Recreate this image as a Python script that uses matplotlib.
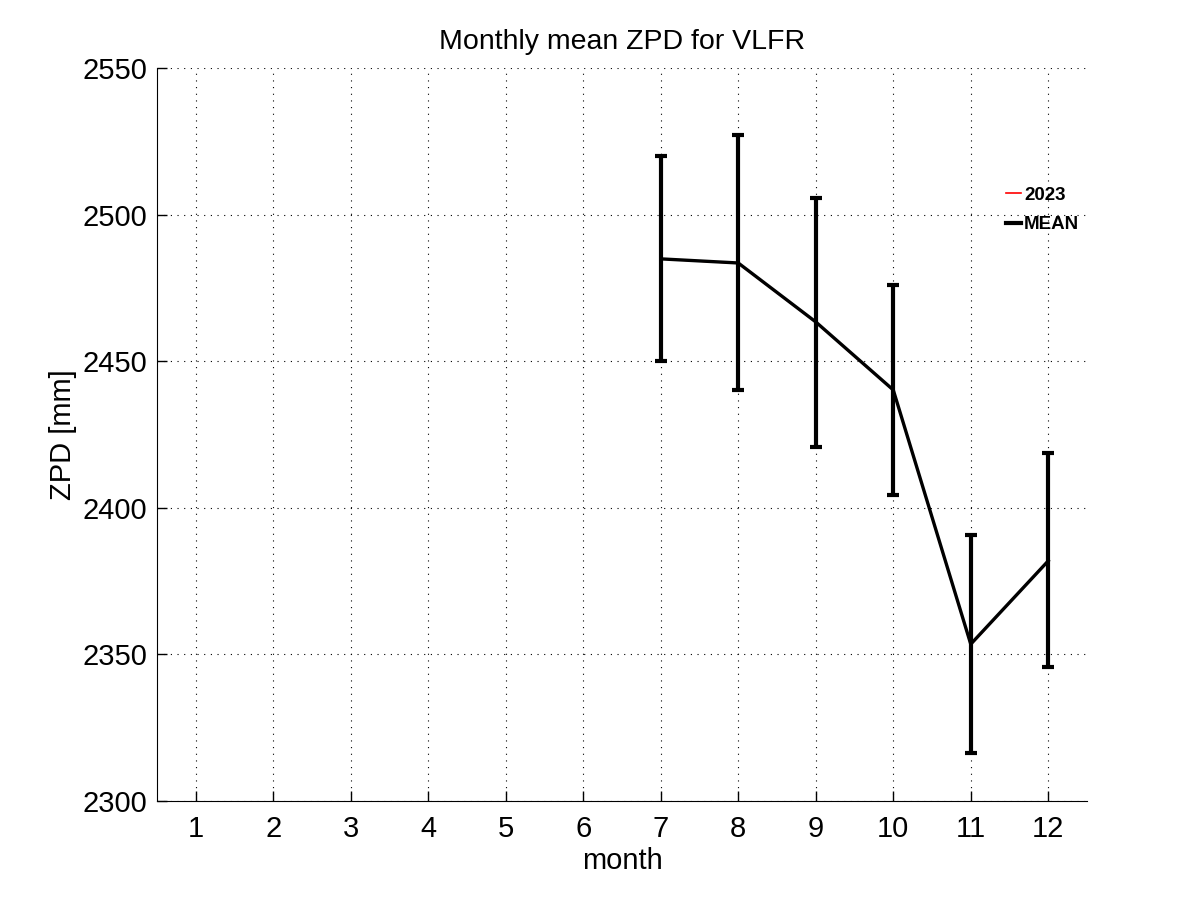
import matplotlib
matplotlib.use("Agg")
import matplotlib.pyplot as plt
import numpy as np
from matplotlib.lines import Line2D

plt.rcParams['font.family'] = ['Liberation Sans', 'DejaVu Sans']

months = [7, 8, 9, 10, 11, 12]
mean_2023 = [2484.9, 2483.4, 2463.3, 2440.1, 2353.3, 2382.0]
mean_all = [2484.9, 2483.5, 2463.4, 2440.2, 2353.5, 2381.9]
upper = [2520.0, 2527.1, 2505.7, 2476.0, 2390.7, 2418.7]
lower = [2450.1, 2440.2, 2420.7, 2404.4, 2316.4, 2345.7]
xticks = list(range(1, 13))
yticks = [2300, 2350, 2400, 2450, 2500, 2550]

fig = plt.figure(figsize=(12.01, 9.01), dpi=100)
ax = fig.add_axes([157/1201, 100/901, (1087-157)/1201, (801-68)/901])

m = np.array(mean_all)
yerr = [m - np.array(lower), np.array(upper) - m]
ax.plot(months, mean_2023, color='red', lw=1.2, zorder=3)
ax.errorbar(months, mean_all, yerr=yerr, color='black', lw=2.4, elinewidth=3,
            capsize=4, capthick=3, zorder=4)

ax.set_xlim(0.5, 12.5)
ax.set_ylim(2300, 2550)
ax.set_xticks(xticks)
ax.set_yticks(yticks)
ax.tick_params(direction='in', length=7, width=1, labelsize=21, pad=7)
ax.tick_params(axis='x', pad=10)
for s in ['top', 'right']:
    ax.spines[s].set_visible(False)
ax.grid(True, linestyle=(0, (1, 5)), color='black', lw=0.8)
ax.set_axisbelow(True)

ax.set_title('Monthly mean ZPD for VLFR', fontsize=20.5, pad=14)
ax.set_xlabel('month', fontsize=21, labelpad=3)
ax.set_ylabel('ZPD [mm]', fontsize=21, labelpad=4)

h = [Line2D([], [], color='red', lw=1.2), Line2D([], [], color='black', lw=3)]
ax.legend(h, ['2023', 'MEAN'], loc='upper left', bbox_to_anchor=(0.913, 0.838),
          frameon=False, prop={'weight': 'bold', 'size': 13.5},
          handlelength=0.8, handletextpad=0.15, labelspacing=0.65,
          borderaxespad=0, borderpad=0)

fig.savefig('out.png', dpi=100)
